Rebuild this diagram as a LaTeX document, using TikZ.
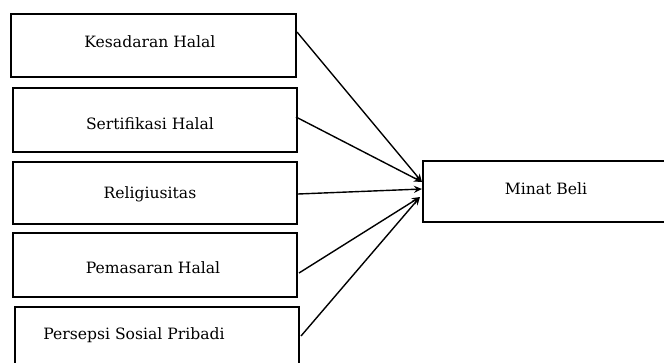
\documentclass[tikz,border=0pt]{standalone}
\usepackage{fontspec}
\setmainfont{DejaVu Serif}
\usetikzlibrary{arrows.meta}
\begin{document}
\begin{tikzpicture}[x=1pt,y=-1pt,
  box/.style={draw=black,line width=1.6pt,fill=white},
  lbl/.style={font=\fontsize{15.6}{17}\selectfont,inner sep=0pt,anchor=center},
  conn/.style={draw=black,line width=1.4pt,-{Stealth[length=8pt,width=7pt]}}]
\useasboundingbox (0,0) rectangle (664,362);
\begin{scope}
\clip (0,0) rectangle (664,362);
\draw[box] (11,14) rectangle (296,77);
\draw[box] (13,88) rectangle (297,152);
\draw[box] (13,162) rectangle (297,224);
\draw[box] (13,233) rectangle (297,297);
\draw[box] (15,307) rectangle (299,380);
\draw[box] (423,161) rectangle (680,222);
\end{scope}
\node[lbl] (k) at (150,42) {Kesadaran Halal};
\node[lbl] (s) at (150,124) {Sertifikasi Halal};
\node[lbl] (r) at (150,194) {Religiusitas};
\node[lbl] (p) at (153,268) {Pemasaran Halal};
\node[lbl] (ps) at (134,335) {Persepsi Sosial Pribadi};
\node[lbl] (m) at (546,189) {Minat Beli};
\coordinate (k1) at (297,32);
\coordinate (s1) at (296,117);
\coordinate (r1) at (298,194);
\coordinate (p1) at (299,273);
\coordinate (ps1) at (301,336);
\coordinate (t1) at (422,182);
\coordinate (t2) at (422,189);
\coordinate (t3) at (420,197);
\draw[conn] (k1) -- (t1);
\draw[conn] (s1) -- (t1);
\draw[conn] (r1) -- (t2);
\draw[conn] (p1) -- (t3);
\draw[conn] (ps1) -- (t3);
\end{tikzpicture}
\end{document}
